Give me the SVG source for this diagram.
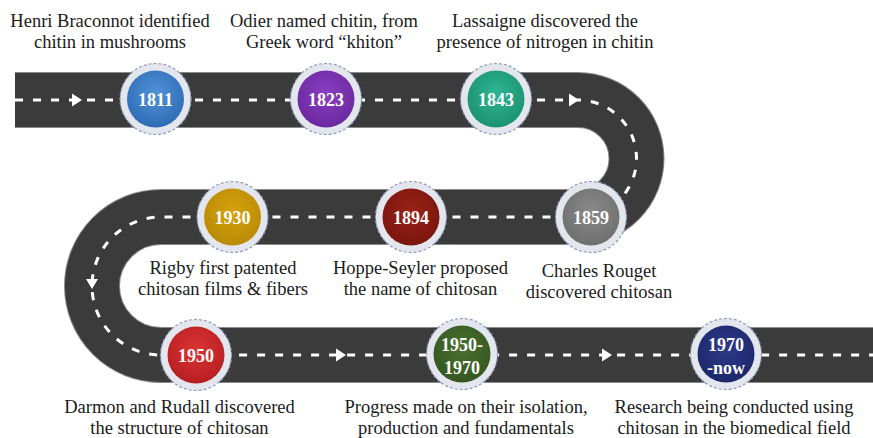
<svg xmlns="http://www.w3.org/2000/svg" width="873" height="438" viewBox="0 0 873 438">
<defs>
<style>
.lbl{font-family:"Liberation Serif","Times New Roman",serif;font-size:18.5px;fill:#1a1a1a;text-anchor:middle}
.yr{font-family:"Liberation Serif","Times New Roman",serif;font-size:18px;font-weight:bold;fill:#ffffff;text-anchor:middle}
.ring{fill:#e3e6ec;stroke:#8e9cbc;stroke-width:1.2;stroke-dasharray:3 2}
.arr{fill:#ffffff}
</style>
<radialGradient id="gBlue" cx="50%" cy="40%" r="60%"><stop offset="0" stop-color="#4f93d8"/><stop offset="1" stop-color="#2f6cb5"/></radialGradient>
<radialGradient id="gPurple" cx="50%" cy="40%" r="60%"><stop offset="0" stop-color="#8a3fc2"/><stop offset="1" stop-color="#6a289e"/></radialGradient>
<radialGradient id="gTeal" cx="50%" cy="40%" r="60%"><stop offset="0" stop-color="#2fb592"/><stop offset="1" stop-color="#1b9272"/></radialGradient>
<radialGradient id="gGrey" cx="50%" cy="40%" r="60%"><stop offset="0" stop-color="#8a8a8a"/><stop offset="1" stop-color="#6f6f6f"/></radialGradient>
<radialGradient id="gMaroon" cx="50%" cy="40%" r="60%"><stop offset="0" stop-color="#9a2216"/><stop offset="1" stop-color="#7a150f"/></radialGradient>
<radialGradient id="gGold" cx="50%" cy="40%" r="60%"><stop offset="0" stop-color="#d6a20e"/><stop offset="1" stop-color="#b88a05"/></radialGradient>
<radialGradient id="gRed" cx="50%" cy="40%" r="60%"><stop offset="0" stop-color="#dc3434"/><stop offset="1" stop-color="#b71f22"/></radialGradient>
<radialGradient id="gGreen" cx="50%" cy="40%" r="60%"><stop offset="0" stop-color="#4a7030"/><stop offset="1" stop-color="#355720"/></radialGradient>
<radialGradient id="gNavy" cx="50%" cy="40%" r="60%"><stop offset="0" stop-color="#2c3a8a"/><stop offset="1" stop-color="#1d276a"/></radialGradient>
</defs>
<rect width="873" height="438" fill="#ffffff"/>

<g id="connectors">
<path d="M 15 100 H 578 A 58.5 58.5 0 0 1 578 217 H 161 A 69 69 0 0 0 161 355 H 873" fill="none" stroke="#8a8a8a" stroke-width="56"/>
<path d="M 15 100 H 578 A 58.5 58.5 0 0 1 578 217 H 161 A 69 69 0 0 0 161 355 H 873" fill="none" stroke="#3b3b3b" stroke-width="54"/>
<path d="M 15 100 H 578 A 58.5 58.5 0 0 1 578 217 H 161 A 69 69 0 0 0 161 355 H 873" fill="none" stroke="#ffffff" stroke-width="3" stroke-dasharray="8 10"/>
<polygon class="arr" points="72,93.5 82,100 72,106.5"/>
<polygon class="arr" points="569,93.5 579,100 569,106.5"/>
<polygon class="arr" points="86,279 98,279 92,289"/>
<polygon class="arr" points="336,348.5 346,355 336,361.5"/>
<polygon class="arr" points="602,348.5 612,355 602,361.5"/>
</g>

<g id="n1811">
<circle class="ring" cx="155.5" cy="99" r="35.5"/>
<circle cx="155.5" cy="99" r="28.5" fill="url(#gBlue)"/>
<text class="yr" x="155.5" y="105.5">1811</text>
<text class="lbl" x="110" y="27">Henri Braconnot identified</text>
<text class="lbl" x="110" y="48">chitin in mushrooms</text>
</g>

<g id="n1823">
<circle class="ring" cx="326" cy="99" r="35.5"/>
<circle cx="326" cy="99" r="28.5" fill="url(#gPurple)"/>
<text class="yr" x="326" y="105.5">1823</text>
<text class="lbl" x="324" y="27">Odier named chitin, from</text>
<text class="lbl" x="324" y="48">Greek word “khiton”</text>
</g>

<g id="n1843">
<circle class="ring" cx="496" cy="99" r="35.5"/>
<circle cx="496" cy="99" r="28.5" fill="url(#gTeal)"/>
<text class="yr" x="496" y="105.5">1843</text>
<text class="lbl" x="545" y="27">Lassaigne discovered the</text>
<text class="lbl" x="545" y="48">presence of nitrogen in chitin</text>
</g>

<g id="n1859">
<circle class="ring" cx="591" cy="217" r="35.5"/>
<circle cx="591" cy="217" r="28.5" fill="url(#gGrey)"/>
<text class="yr" x="591" y="223.5">1859</text>
<text class="lbl" x="599" y="277">Charles Rouget</text>
<text class="lbl" x="599" y="298">discovered chitosan</text>
</g>

<g id="n1894">
<circle class="ring" cx="411" cy="217" r="35.5"/>
<circle cx="411" cy="217" r="28.5" fill="url(#gMaroon)"/>
<text class="yr" x="411" y="223.5">1894</text>
<text class="lbl" x="420.5" y="273.5">Hoppe-Seyler proposed</text>
<text class="lbl" x="420.5" y="295">the name of chitosan</text>
</g>

<g id="n1930">
<circle class="ring" cx="232.5" cy="217" r="35.5"/>
<circle cx="232.5" cy="217" r="28.5" fill="url(#gGold)"/>
<text class="yr" x="232.5" y="223.5">1930</text>
<text class="lbl" x="223" y="273.5">Rigby first patented</text>
<text class="lbl" x="223" y="295">chitosan films &amp; fibers</text>
</g>

<g id="n1950">
<circle class="ring" cx="196" cy="355" r="35.5"/>
<circle cx="196" cy="355" r="28.5" fill="url(#gRed)"/>
<text class="yr" x="196" y="361.5">1950</text>
<text class="lbl" x="179.5" y="413">Darmon and Rudall discovered</text>
<text class="lbl" x="179.5" y="434">the structure of chitosan</text>
</g>

<g id="n1950-1970">
<circle class="ring" cx="462" cy="354" r="35.5"/>
<circle cx="462" cy="354" r="28.5" fill="url(#gGreen)"/>
<text class="yr" x="462" y="351">1950-</text>
<text class="yr" x="462" y="374">1970</text>
<text class="lbl" x="466" y="413">Progress made on their isolation,</text>
<text class="lbl" x="466" y="434">production and fundamentals</text>
</g>

<g id="n1970-now">
<circle class="ring" cx="726" cy="354" r="35.5"/>
<circle cx="726" cy="354" r="28.5" fill="url(#gNavy)"/>
<text class="yr" x="726" y="351">1970</text>
<text class="yr" x="726" y="374">-now</text>
<text class="lbl" x="734" y="413">Research being conducted using</text>
<text class="lbl" x="734" y="434">chitosan in the biomedical field</text>
</g>
</svg>
